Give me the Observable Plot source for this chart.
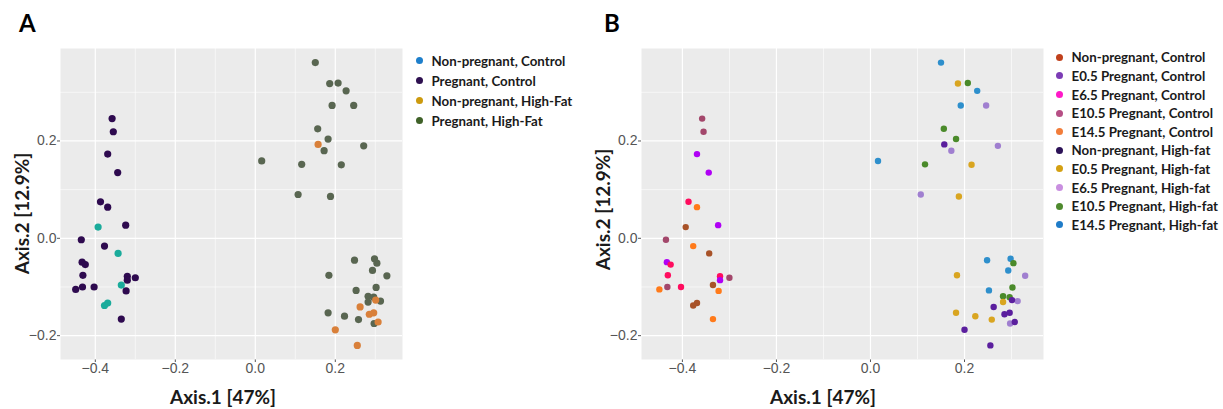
<!DOCTYPE html>
<html>
<head>
<meta charset="utf-8">
<script src="https://cdn.jsdelivr.net/npm/d3@7"></script>
<script src="https://cdn.jsdelivr.net/npm/@observablehq/plot@0.6"></script>
<style>
  html, body { margin: 0; padding: 0; background: white; }
  #wrap { position: relative; width: 1223px; height: 409px; overflow: hidden; background: white; }
  .abs { position: absolute; }
  .letter { font-family: Lato, "Liberation Sans", sans-serif; font-weight: 700; font-size: 24px; line-height: 1; color: #000; }
  .title { font-family: Lato, "Liberation Sans", sans-serif; font-weight: 700; font-size: 19px; line-height: 1; color: #1a1a1a; white-space: nowrap; }
  .legend { font-family: Lato, "Liberation Sans", sans-serif; font-weight: 700; font-size: 13.3px; color: #1a1a1a; }
  .legend .row { position: absolute; left: 0; white-space: nowrap; display: flex; align-items: center; height: 16px; }
  .legend .sw { display: inline-block; width: 7px; height: 7px; border-radius: 50%; margin-right: 9px; margin-left: -3.5px; }
</style>
</head>
<body>
<div id="wrap"></div>
<script>
// ---- data ----
const groupsA = ["Non-pregnant, Control", "Pregnant, Control", "Non-pregnant, High-Fat", "Pregnant, High-Fat"];
const groupsB = ["Non-pregnant, Control", "E0.5 Pregnant, Control", "E6.5 Pregnant, Control", "E10.5 Pregnant, Control", "E14.5 Pregnant, Control",
                 "Non-pregnant, High-fat", "E0.5 Pregnant, High-fat", "E6.5 Pregnant, High-fat", "E10.5 Pregnant, High-fat", "E14.5 Pregnant, High-fat"];
// group of panel A for each group of panel B
const bToA = [0, 1, 1, 1, 1, 2, 3, 3, 3, 3];

const axis1 = [
  -0.358, -0.355, -0.369, -0.344, -0.387, -0.369, -0.393, -0.324, -0.435, -0.377,
  -0.343, -0.433, -0.425, -0.431, -0.320, -0.320, -0.300, -0.449, -0.432, -0.403,
  -0.335, -0.323, -0.369, -0.377, -0.335,
  0.150, 0.186, 0.207, 0.227, 0.192, 0.246, 0.156, 0.182, 0.157, 0.172,
  0.271, 0.016, 0.116, 0.215, 0.107, 0.188,
  0.248, 0.298, 0.304, 0.293, 0.329, 0.184, 0.302, 0.252, 0.282, 0.296,
  0.282, 0.313, 0.301, 0.262, 0.285, 0.296, 0.182, 0.223, 0.258, 0.297,
  0.307, 0.200, 0.255
];
const axis2 = [
  0.246, 0.219, 0.173, 0.135, 0.075, 0.064, 0.023, 0.027, -0.003, -0.016,
  -0.031, -0.049, -0.054, -0.076, -0.078, -0.086, -0.081, -0.105, -0.100, -0.100,
  -0.096, -0.108, -0.133, -0.138, -0.166,
  0.361, 0.318, 0.319, 0.303, 0.273, 0.273, 0.225, 0.204, 0.193, 0.180,
  0.190, 0.159, 0.152, 0.151, 0.090, 0.086,
  -0.045, -0.042, -0.051, -0.066, -0.077, -0.076, -0.101, -0.107, -0.119, -0.121,
  -0.131, -0.129, -0.127, -0.141, -0.156, -0.153, -0.153, -0.160, -0.167, -0.175,
  -0.172, -0.188, -0.220
];
const groupIndexB = [
  3, 3, 1, 1, 2, 4, 0, 1, 3, 4,
  0, 1, 2, 2, 2, 1, 3, 4, 3, 2,
  0, 4, 0, 0, 4,
  9, 6, 8, 9, 9, 7, 8, 8, 5, 7,
  7, 9, 8, 6, 7, 6,
  9, 9, 8, 9, 7, 6, 8, 9, 8, 8,
  6, 7, 5, 5, 5, 5, 6, 6, 6, 7,
  5, 5, 5
];

const xTicks = [-0.4, -0.2, 0.0, 0.2];
const xMinorTicks = [-0.3, -0.1, 0.1, 0.3];
const yTicks = [-0.2, 0.0, 0.2];
const yMinorTicks = [-0.1, 0.1, 0.3];

const pointColorsA = ["#1aab9b", "#2e0a4f", "#d9803a", "#596651"];
const legendColorsA = ["#1e7fcb", "#2e1050", "#cc9a0e", "#3f6128"];
const pointColorsB = ["#a85228", "#b000f5", "#ff0c5e", "#a3476b", "#ff7a1a", "#5b1f9e", "#d9a520", "#a07fd0", "#4a8a2a", "#2e8fcc"];
const legendColorsB = ["#c0401c", "#7c3cb5", "#ff19c8", "#b64f85", "#f27d3a", "#2c1257", "#d4a012", "#c98fe0", "#4e8a2e", "#1f7cc8"];

// ---- build tables ----
const samples = axis1.map((v, i) => ({
  x: v, y: axis2[i],
  groupB: groupsB[groupIndexB[i]],
  groupA: groupsA[bToA[groupIndexB[i]]],
  aOrder: [1, 0, 1, 0][bToA[groupIndexB[i]]]
}));
const samplesA = d3.sort(samples, d => d.aOrder);

const fmt = d3.format(".1f");
const wrap = document.getElementById("wrap");

function panel(data, key, domain, range, width, marginLeft, marginRight, r) {
  return Plot.plot({
    width, height: 409,
    marginLeft, marginRight, marginTop: 48, marginBottom: 50,
    style: { background: "transparent", fontFamily: "'Liberation Sans', Arial, sans-serif", fontSize: "14px", color: "#555", overflow: "visible" },
    x: { domain: [-0.487, 0.368], ticks: xTicks, tickSize: 3, tickPadding: 1, tickFormat: fmt, label: null },
    y: { domain: [-0.249, 0.390], ticks: yTicks, tickSize: 3, tickPadding: 1, tickFormat: fmt, label: null },
    color: { type: "ordinal", domain, range },
    marks: [
      Plot.frame({ fill: "#ebebeb", stroke: null }),
      Plot.ruleX(xMinorTicks, { stroke: "white", strokeWidth: 0.6 }),
      Plot.ruleY(yMinorTicks, { stroke: "white", strokeWidth: 0.6 }),
      Plot.ruleX(xTicks, { stroke: "white", strokeWidth: 1.2 }),
      Plot.ruleY(yTicks, { stroke: "white", strokeWidth: 1.2 }),
      Plot.dot(data, { x: "x", y: "y", fill: key, r, stroke: null })
    ]
  });
}

function place(el, left, top) {
  el.style.position = "absolute";
  el.style.left = left + "px";
  el.style.top = top + "px";
  wrap.appendChild(el);
}

const svgA = panel(samplesA, "groupA", groupsA, pointColorsA, 410, 60, 8, 3.6);
place(svgA, 0, 0);
const svgB = panel(samples, "groupB", groupsB, pointColorsB, 470, 61, 7, 3.2);
place(svgB, 580, 0);

function html(cls, text, left, top, extra) {
  const d = document.createElement("div");
  d.className = "abs " + cls;
  d.textContent = text;
  d.style.left = left + "px";
  d.style.top = top + "px";
  if (extra) Object.assign(d.style, extra);
  wrap.appendChild(d);
  return d;
}

html("letter", "A", 19, 11);
html("letter", "B", 604, 11);

// axis titles
function centeredTitle(text, cx, cy, rotate) {
  const d = html("title", text, 0, 0);
  const w = d.offsetWidth, h = d.offsetHeight;
  d.style.left = (cx - w / 2) + "px";
  d.style.top = (cy - h / 2) + "px";
  if (rotate) d.style.transform = "rotate(-90deg)";
}
centeredTitle("Axis.1 [47%]", 223, 396, false);
centeredTitle("Axis.1 [47%]", 823, 396, false);
centeredTitle("Axis.2 [12.9%]", 22, 213, true);
centeredTitle("Axis.2 [12.9%]", 603, 209, true);

// legends
function legend(groups, colors, left, top0, step) {
  const box = document.createElement("div");
  box.className = "abs legend";
  box.style.left = left + "px";
  box.style.top = "0px";
  groups.forEach((g, i) => {
    const row = document.createElement("div");
    row.className = "row";
    row.style.top = (top0 + i * step - 8) + "px";
    const sw = document.createElement("span");
    sw.className = "sw";
    sw.style.background = colors[i];
    row.appendChild(sw);
    const t = document.createElement("span");
    t.textContent = g;
    row.appendChild(t);
    box.appendChild(row);
  });
  wrap.appendChild(box);
}
legend(groupsA, legendColorsA, 419, 60.7, 20);
legend(groupsB, legendColorsB, 1059, 57.3, 18.6);
</script>
</body>
</html>
